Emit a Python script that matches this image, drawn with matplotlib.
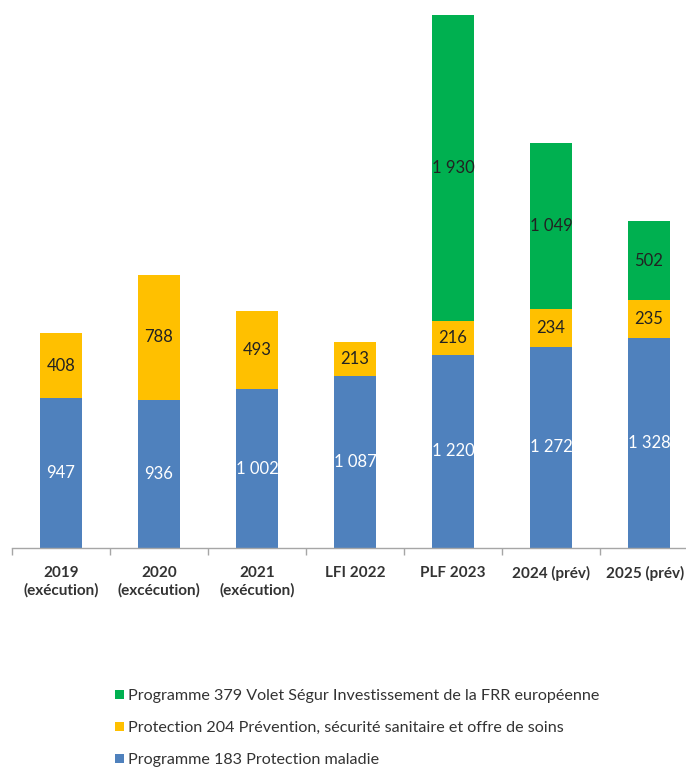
import numpy as np
import matplotlib
matplotlib.use('Agg')
from matplotlib import pyplot as plt
from matplotlib.transforms import ScaledTranslation

# categories and values
categories = ['2019\n(exécution)', '2020\n(excécution)', '2021\n(exécution)',
              'LFI 2022', 'PLF 2023', '2024 (prév)', '2025 (prév)']
p183 = [947, 936, 1002, 1087, 1220, 1272, 1328]
p204 = [408, 788, 493, 213, 216, 234, 235]
p379 = [0, 0, 0, 0, 1930, 1049, 502]

labels = ['Programme 183 Protection maladie',
          'Protection 204 Prévention, sécurité sanitaire et offre de soins',
          'Programme 379 Volet Ségur Investissement de la FRR européenne']

blue = '#4F81BD'
yellow = '#FFC000'
green = '#00B050'

plt.rcParams['font.family'] = ['Lato', 'DejaVu Sans']

def fmt(v):
    return f'{v:,}'.replace(',', ' ')

fig = plt.figure(figsize=(6.86, 7.69), dpi=100)
ax = fig.add_axes([12/686, 1 - 548/769, 1.0, 548/769])

x = np.arange(len(categories))
w = 0.43
b1 = ax.bar(x, p183, w, color=blue, label=labels[0])
b2 = ax.bar(x, p204, w, bottom=p183, color=yellow, label=labels[1])
bot3 = np.array(p183) + np.array(p204)
b3 = ax.bar(x, p379, w, bottom=bot3, color=green, label=labels[2])

for i in x:
    ax.text(i, p183[i] / 2, fmt(p183[i]), ha='center', va='center',
            color='white', fontsize=12)
    ax.text(i, p183[i] + p204[i] / 2, fmt(p204[i]), ha='center', va='center',
            color='#222222', fontsize=12)
    if p379[i]:
        ax.text(i, bot3[i] + p379[i] / 2, fmt(p379[i]), ha='center', va='center',
                color='#222222', fontsize=12)

ax.set_xlim(-0.5, 6.5)
ax.set_ylim(0, 548 / 0.1584)
ax.set_yticks([])
for s in ['top', 'left', 'right']:
    ax.spines[s].set_visible(False)
ax.spines['bottom'].set_color('#A6A6A6')
ax.spines['bottom'].set_linewidth(1)

ax.set_xticks(x)
ax.set_xticklabels(categories, fontsize=11, fontweight='bold', color='#333333',
                   linespacing=1.3)
ax.tick_params(axis='x', which='major', length=0, pad=13)
ax.set_xticks(np.arange(-0.5, 7, 1), minor=True)
ax.tick_params(axis='x', which='minor', length=5, color='#A6A6A6', width=1)
# keep the last label inside the figure edge
last = ax.get_xticklabels()[-1]
last.set_transform(last.get_transform() + ScaledTranslation(-4/100, 0, fig.dpi_scale_trans))

handles = [b3, b2, b1]
fig.legend(handles, [labels[2], labels[1], labels[0]],
           loc='upper left', bbox_to_anchor=(109/686, 1 - 683/769),
           frameon=False, fontsize=11.6, handlelength=0.5, handleheight=0.5,
           handletextpad=0.25, labelspacing=1.1, borderaxespad=0,
           labelcolor='#333333')

fig.savefig('out.png', dpi=100)
